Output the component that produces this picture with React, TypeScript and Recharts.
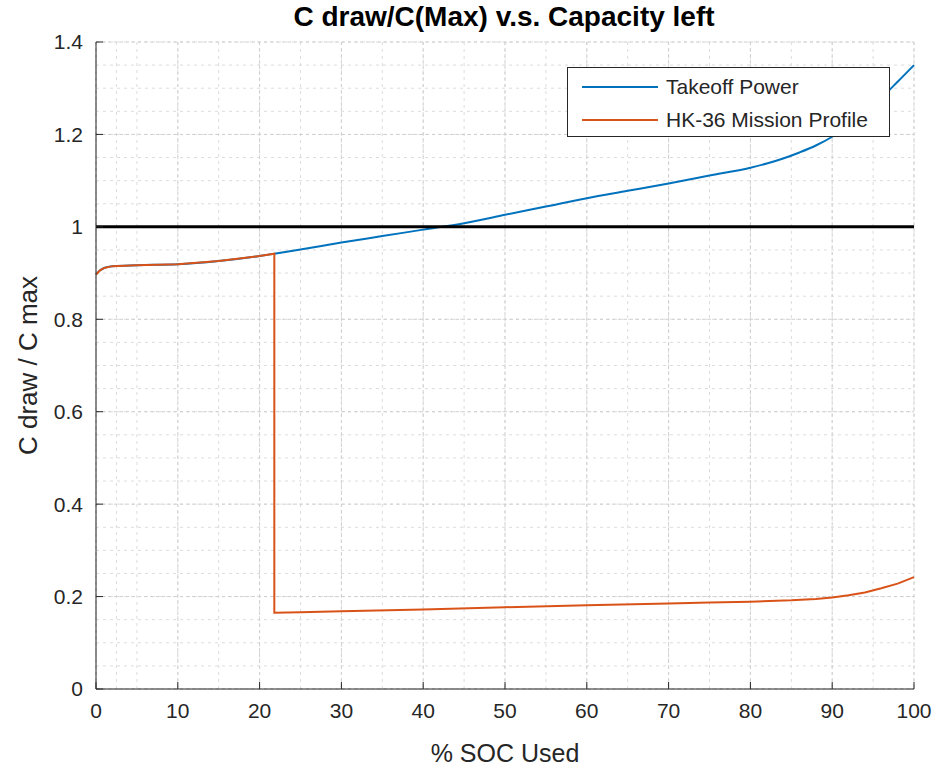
import { LineChart, Line, XAxis, YAxis, CartesianGrid, ReferenceLine, Legend } from 'recharts';

// % SOC used (x) and C draw / C max (y) for each profile
const socTakeoff = [0, 0.5, 1, 2, 5, 10, 15, 20, 21.8, 25, 30, 35, 40, 45, 50, 55, 60, 65, 70, 75, 80, 82, 84, 86, 88, 90, 92, 94, 96, 98, 100];
const cTakeoff = [0.897, 0.906, 0.911, 0.915, 0.917, 0.919, 0.926, 0.937, 0.942, 0.951, 0.966, 0.98, 0.994, 1.008, 1.026, 1.044, 1.062, 1.078, 1.094, 1.111, 1.128, 1.137, 1.148, 1.161, 1.176, 1.195, 1.22, 1.248, 1.279, 1.314, 1.35];

const socMission = [0, 0.5, 1, 2, 5, 10, 15, 20, 21.8, 21.8, 25, 30, 40, 50, 60, 70, 75, 80, 85, 88, 90, 92, 94, 96, 98, 100];
const cMission = [0.897, 0.906, 0.911, 0.915, 0.917, 0.919, 0.926, 0.937, 0.942, 0.165, 0.166, 0.168, 0.172, 0.177, 0.181, 0.185, 0.187, 0.189, 0.192, 0.195, 0.198, 0.203, 0.209, 0.218, 0.228, 0.242];

const xTicks = [0, 10, 20, 30, 40, 50, 60, 70, 80, 90, 100];
const yTicks = [0, 0.2, 0.4, 0.6, 0.8, 1, 1.2, 1.4];

const BLUE = '#0072BD';
const ORANGE = '#D95319';
const AXIS = '#262626';
const FONT = '"Liberation Sans", Arial, Helvetica, sans-serif';

const takeoffData = socTakeoff.map((x, i) => ({ x, y: cTakeoff[i] }));
const missionData = socMission.map((x, i) => ({ x, y: cMission[i] }));

// minor grid every 2.5 % and 0.05
const xMinor = Array.from({ length: 41 }, (_, i) => i * 2.5);
const yMinor = Array.from({ length: 29 }, (_, i) => Math.round(i * 5) / 100);

function LegendBox() {
  const rows = [
    { name: 'Takeoff Power', color: BLUE },
    { name: 'HK-36 Mission Profile', color: ORANGE },
  ];
  return (
    <div
      style={{
        width: 323,
        height: 70,
        background: '#fff',
        border: '1px solid #262626',
        boxSizing: 'border-box',
        padding: '2px 0 0 0',
        fontFamily: FONT,
        fontSize: 21,
        color: AXIS,
      }}
    >
      {rows.map((r) => (
        <div key={r.name} style={{ display: 'flex', alignItems: 'center', height: 33 }}>
          <div style={{ width: 76, height: 2, background: r.color, marginLeft: 14, marginRight: 8 }} />
          <span>{r.name}</span>
        </div>
      ))}
    </div>
  );
}

export default function App() {
  return (
    <div style={{ position: 'absolute', left: 0, top: 0, width: 938, height: 772, background: '#fff' }}>
      <div
        style={{
          position: 'absolute',
          left: 0,
          width: 1008,
          top: 1,
          textAlign: 'center',
          fontFamily: FONT,
          fontWeight: 'bold',
          fontSize: 28,
          color: '#000',
        }}
      >
        C draw/C(Max) v.s. Capacity left
      </div>
      <LineChart width={938} height={772} margin={{ top: 42, right: 24, bottom: 8, left: 10 }}>
        <CartesianGrid
          stroke="#dcdcdc"
          strokeDasharray="3 4"
          horizontalValues={yMinor}
          verticalValues={xMinor}
        />
        <CartesianGrid
          stroke="#cfcfcf"
          strokeDasharray="3 3"
          horizontalValues={yTicks}
          verticalValues={xTicks}
        />
        <XAxis
          dataKey="x"
          type="number"
          domain={[0, 100]}
          ticks={xTicks}
          allowDuplicatedCategory={false}
          height={75}
          stroke={AXIS}
          tickSize={-7}
          tickMargin={21}
          tick={{ fill: AXIS, fontSize: 21, fontFamily: FONT }}
          label={{ value: '% SOC Used', position: 'insideBottom', offset: 2, fill: AXIS, fontSize: 25, fontFamily: FONT }}
        />
        <YAxis
          type="number"
          domain={[0, 1.4]}
          ticks={yTicks}
          width={86}
          stroke={AXIS}
          tickSize={-7}
          tickMargin={20}
          tick={{ fill: AXIS, fontSize: 21, fontFamily: FONT }}
          label={{
            value: 'C draw / C max',
            angle: -90,
            position: 'insideLeft',
            offset: 18,
            fill: AXIS,
            fontSize: 26,
            fontFamily: FONT,
            style: { textAnchor: 'middle' },
          }}
        />
        <Line
          data={takeoffData}
          dataKey="y"
          name="Takeoff Power"
          type="monotone"
          stroke={BLUE}
          strokeWidth={2}
          dot={false}
          isAnimationActive={false}
        />
        <Line
          data={missionData}
          dataKey="y"
          name="HK-36 Mission Profile"
          type="linear"
          stroke={ORANGE}
          strokeWidth={2}
          dot={false}
          isAnimationActive={false}
        />
        <ReferenceLine y={1} stroke="#000" strokeWidth={3} />
        <Legend
          layout="vertical"
          align="center"
          verticalAlign="middle"
          content={() => <LegendBox />}
          wrapperStyle={{ position: 'absolute', left: 567, top: 67, width: 323, height: 70 }}
        />
      </LineChart>
    </div>
  );
}
